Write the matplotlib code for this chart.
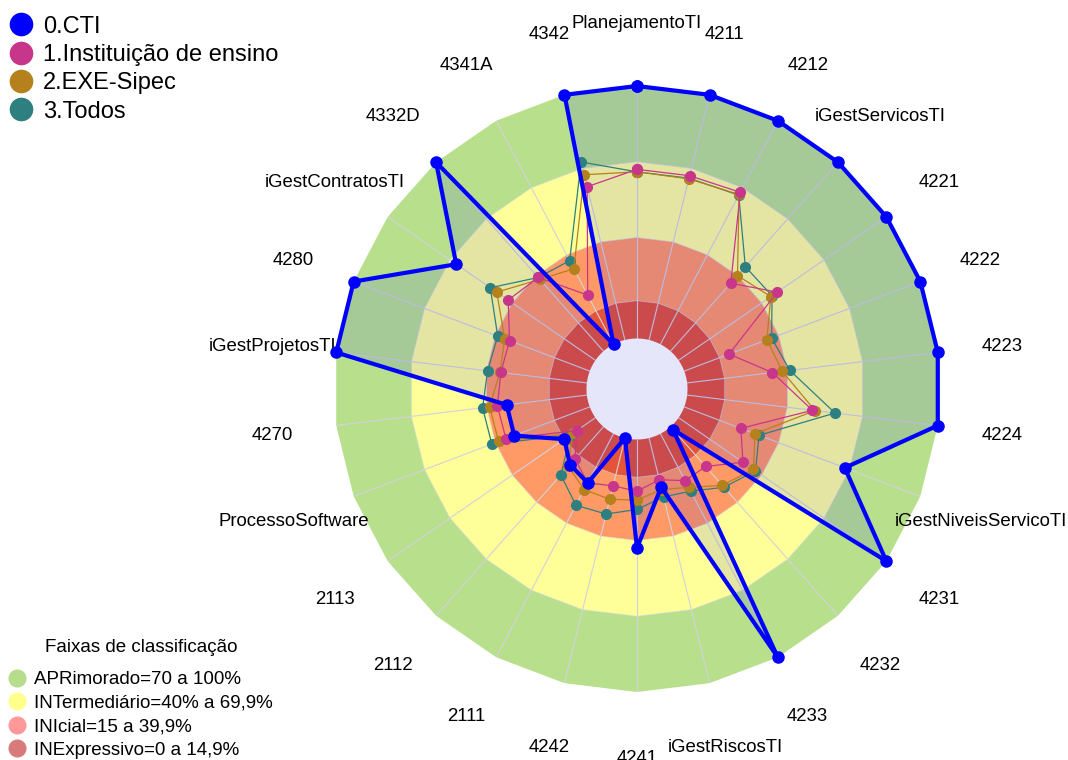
import numpy as np
import matplotlib
matplotlib.use('Agg')
import matplotlib.pyplot as plt
from matplotlib.lines import Line2D

plt.rcParams['font.family'] = ['Liberation Sans', 'DejaVu Sans']

# categorias no sentido horario, a partir do topo
categorias = ['PlanejamentoTI', '4211', '4212', 'iGestServicosTI', '4221', '4222',
              '4223', '4224', 'iGestNiveisServicoTI', '4231', '4232', '4233',
              'iGestRiscosTI', '4241', '4242', '2111', '2112', '2113',
              'ProcessoSoftware', '4270', 'iGestProjetosTI', '4280',
              'iGestContratosTI', '4332D', '4341A', '4342']

cti = [100, 100, 100, 100, 100, 100, 100, 100, 68, 100, 1.5, 100, 20, 43,
       0, 22, 20, 15, 32, 32, 100, 100, 67, 100, 0, 100]
instituicao = [67, 67, 68, 36, 47.5, 19, 34, 50, 24, 31, 21, 21, 17, 20.5,
               19.5, 22, 17, 9, 35.5, 35.7, 34.3, 34, 42, 39, 22, 62.5]
exe_sipec = [66, 65.7, 67, 40, 44.4, 35, 38, 51, 30, 36, 31, 24, 21, 24,
             25, 25, 21, 11, 38.6, 38.8, 34.7, 36, 47.5, 38, 33.8, 67.4]
todos = [66, 66, 66.7, 44.7, 45, 37, 41, 59, 31.7, 37, 32, 25.7, 24, 27.7,
         31, 32, 25.5, 12, 41.5, 41.6, 39.6, 39, 50.6, 39, 37.4, 72.6]

series_nomes = ['0.CTI', '1.Instituição de ensino', '2.EXE-Sipec', '3.Todos']
series_cores = ['#0000ff', '#c8368c', '#b5811c', '#2e7f80']

faixas_titulo = 'Faixas de classificação'
faixas_nomes = ['APRimorado=70 a 100%', 'INTermediário=40% a 69,9%',
                'INIcial=15 a 39,9%', 'INExpressivo=0 a 14,9%']
faixas_limites = [100, 70, 40, 15]
faixas_cores = ['#b8e08c', '#ffff99', '#ff9966', '#e35438']
faixas_cores_legenda = ['#b5dd8b', '#ffff8c', '#ff9999', '#d97a7a']


def fechar(v):
    return np.append(v, v[0])


if __name__ == '__main__':
    n = len(categorias)
    theta = np.linspace(0, 2 * np.pi, n, endpoint=False)
    theta_f = fechar(theta)

    fig = plt.figure(figsize=(10.68, 7.6), dpi=100)
    ax = fig.add_axes([334 / 1068, 68 / 760, 606 / 1068, 606 / 760], projection='polar')
    ax.set_theta_zero_location('N')
    ax.set_theta_direction(-1)
    ax.set_ylim(-20, 100)
    ax.axis('off')

    # faixas de fundo (poligonos, do maior para o menor)
    for lim, cor in zip(faixas_limites, faixas_cores):
        ax.fill(theta_f, [lim] * (n + 1), color=cor, lw=0, zorder=1)

    # grade
    for t in theta:
        ax.plot([t, t], [0, 100], color='#d2d2de', lw=0.8, zorder=2)
    for lim in faixas_limites[1:]:
        ax.plot(theta_f, [lim] * (n + 1), color='#d8d8e4', lw=0.6, alpha=0.7, zorder=2)

    # preenchimento do CTI
    ax.fill(theta_f, fechar(cti), color='#0000ff', alpha=0.1, lw=0, zorder=3)

    # buraco central
    tc = np.linspace(0, 2 * np.pi, 361)
    ax.fill(tc, np.zeros_like(tc), color='#e6e6fa', lw=0, zorder=4)

    # series menores
    outras = [todos, exe_sipec, instituicao]
    cores = [series_cores[3], series_cores[2], series_cores[1]]
    for vals, cor in zip(outras, cores):
        ax.plot(theta_f, fechar(vals), color=cor, lw=0.9, marker='o', ms=7,
                zorder=5, clip_on=False)

    ax.plot(theta_f, fechar(cti), color=series_cores[0], lw=3, marker='o', ms=8,
            zorder=6, clip_on=False)

    # rotulos das categorias
    for t, lab in zip(theta, categorias):
        ax.text(t, 125.5, lab, ha='center', va='center_baseline', fontsize=13.4,
                clip_on=False)

    # legendas
    h1 = [Line2D([], [], ls='', marker='o', ms=16, color=c) for c in series_cores]
    fig.legend(h1, series_nomes, loc='upper left', bbox_to_anchor=(0, 0.992),
               frameon=False, fontsize=17, handlelength=1.0, handletextpad=0.42,
               labelspacing=0.27, borderaxespad=0)

    h2 = [Line2D([], [], ls='', marker='o', ms=12, color=c) for c in faixas_cores_legenda]
    fig.legend(h2, faixas_nomes, loc='lower left', bbox_to_anchor=(0, -0.008),
               frameon=False, fontsize=13.5, handlelength=1.0, handletextpad=0.41,
               labelspacing=0.34, borderaxespad=0)
    fig.text(141 / 1068, 1 - 648 / 760, faixas_titulo, ha='center', va='center',
             fontsize=13.5)

    fig.savefig('out.png', dpi=100)
